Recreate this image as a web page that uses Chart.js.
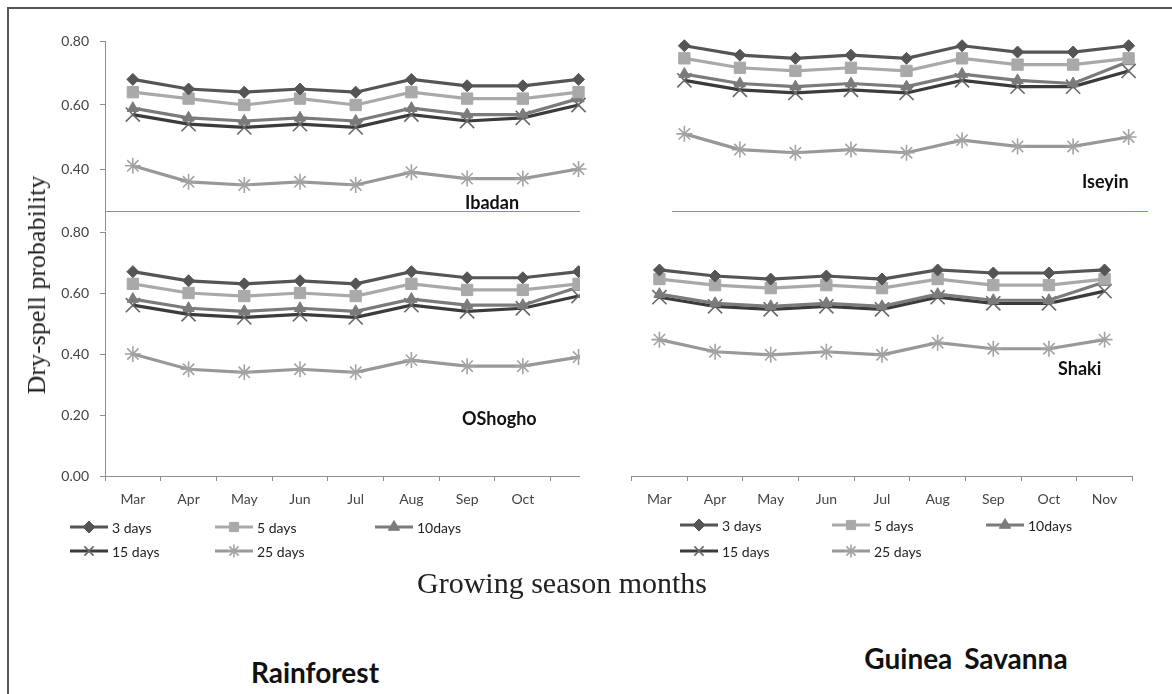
<!DOCTYPE html>
<html>
<head>
<meta charset="utf-8">
<script src="https://cdn.jsdelivr.net/npm/chart.js@4.4.1/dist/chart.umd.min.js"></script>
<style>
  body { margin: 0; background: #fff; width: 1172px; height: 694px; position: relative; overflow: hidden; }
  .frame { position: absolute; left: 7px; top: 7px; width: 1300px; height: 800px; border: 2px solid #555; }
  .clip { position: absolute; overflow: hidden; }
  .clip canvas { position: absolute; }
  .txt { position: absolute; white-space: nowrap; color: #111; }
  .station { font-family: Lato, "Open Sans", sans-serif; font-weight: bold; font-size: 18px; transform: translateY(-50%); }
  .zone { font-family: Lato, "Open Sans", sans-serif; font-weight: bold; font-size: 28px; }
  .serif { font-family: "Liberation Serif", "DejaVu Serif", serif; color: #222; }
  .sep { position: absolute; height: 0; border-top: 1.5px solid #6b98cf; }
</style>
</head>
<body>
<div class="frame"></div>

<div class="clip" style="left:0;top:0;width:597px;height:231px"><canvas id="ibadan"></canvas></div>
<div class="clip" style="left:0;top:205px;width:580px;height:370px"><canvas id="oshogbo"></canvas></div>
<div class="clip" style="left:600px;top:0;width:572px;height:231px"><canvas id="iseyin"></canvas></div>
<div class="clip" style="left:600px;top:214px;width:572px;height:360px"><canvas id="shaki"></canvas></div>

<div class="sep" style="left:106px;top:211px;width:474px"></div>
<div class="sep" style="left:672px;top:211px;width:476px"></div>

<div class="txt station" style="left:465px;top:202px">Ibadan</div>
<div class="txt station" style="left:1082px;top:181px">Iseyin</div>
<div class="txt station" style="left:462px;top:418px">OShogho</div>
<div class="txt station" style="left:1058px;top:368px">Shaki</div>

<div class="txt serif" style="left:37px;top:285px;transform:translate(-50%,-50%) rotate(-90deg);font-size:26px">Dry-spell probability</div>
<div class="txt serif" style="left:562px;top:583px;transform:translate(-50%,-50%);font-size:30px">Growing season months</div>
<div class="txt zone" style="left:315px;top:672px;transform:translate(-50%,-50%)">Rainforest</div>
<div class="txt zone" style="left:966px;top:658px;transform:translate(-50%,-50%);word-spacing:5px">Guinea Savanna</div>

<script>
// months on the x axis
const months = ['Mar', 'Apr', 'May', 'Jun', 'Jul', 'Aug', 'Sep', 'Oct', 'Nov'];
const seriesNames = ['3 days', '5 days', '10days', '15 days', '25 days'];

// Ibadan (rainforest, top)
const ibadan3  = [0.68, 0.65, 0.64, 0.65, 0.64, 0.68, 0.66, 0.66, 0.68];
const ibadan5  = [0.64, 0.62, 0.60, 0.62, 0.60, 0.64, 0.62, 0.62, 0.64];
const ibadan10 = [0.59, 0.56, 0.55, 0.56, 0.55, 0.59, 0.57, 0.57, 0.62];
const ibadan15 = [0.57, 0.54, 0.53, 0.54, 0.53, 0.57, 0.55, 0.56, 0.60];
const ibadan25 = [0.41, 0.36, 0.35, 0.36, 0.35, 0.39, 0.37, 0.37, 0.40];

// Oshogbo (rainforest, bottom)
const oshogbo3  = [0.67, 0.64, 0.63, 0.64, 0.63, 0.67, 0.65, 0.65, 0.67];
const oshogbo5  = [0.63, 0.60, 0.59, 0.60, 0.59, 0.63, 0.61, 0.61, 0.63];
const oshogbo10 = [0.58, 0.55, 0.54, 0.55, 0.54, 0.58, 0.56, 0.56, 0.62];
const oshogbo15 = [0.56, 0.53, 0.52, 0.53, 0.52, 0.56, 0.54, 0.55, 0.59];
const oshogbo25 = [0.40, 0.35, 0.34, 0.35, 0.34, 0.38, 0.36, 0.36, 0.39];

// Iseyin (guinea savanna, top)
const iseyin3  = [0.79, 0.76, 0.75, 0.76, 0.75, 0.79, 0.77, 0.77, 0.79];
const iseyin5  = [0.75, 0.72, 0.71, 0.72, 0.71, 0.75, 0.73, 0.73, 0.75];
const iseyin10 = [0.70, 0.67, 0.66, 0.67, 0.66, 0.70, 0.68, 0.67, 0.74];
const iseyin15 = [0.68, 0.65, 0.64, 0.65, 0.64, 0.68, 0.66, 0.66, 0.71];
const iseyin25 = [0.51, 0.46, 0.45, 0.46, 0.45, 0.49, 0.47, 0.47, 0.50];

// Shaki (guinea savanna, bottom)
const shaki3  = [0.68, 0.66, 0.65, 0.66, 0.65, 0.68, 0.67, 0.67, 0.68];
const shaki5  = [0.65, 0.63, 0.62, 0.63, 0.62, 0.65, 0.63, 0.63, 0.65];
const shaki10 = [0.60, 0.57, 0.56, 0.57, 0.56, 0.60, 0.58, 0.58, 0.64];
const shaki15 = [0.59, 0.56, 0.55, 0.56, 0.55, 0.59, 0.57, 0.57, 0.61];
const shaki25 = [0.45, 0.41, 0.40, 0.41, 0.40, 0.44, 0.42, 0.42, 0.45];

const seriesColors = ['#555555', '#a9a9a9', '#7b7b7b', '#3b3b3b', '#989898'];
const markerColors = ['#555555', '#a9a9a9', '#7b7b7b', '#686868', '#a3a3a3'];
const seriesMarkers = ['rectRot', 'rect', 'triangle', 'crossRot', 'star'];
const markerSizes = [6, 8, 6.5, 10, 8];

const axisGrey = '#8c8c8c';
const tickFont = { family: 'Lato, "Open Sans", sans-serif', size: 14 };

function buildDatasets(lists) {
    return lists.map((vals, i) => ({
        label: seriesNames[i],
        data: vals,
        borderColor: seriesColors[i],
        backgroundColor: seriesColors[i],
        borderWidth: 3.2,
        pointStyle: seriesMarkers[i],
        pointRadius: markerSizes[i],
        pointBorderWidth: (i >= 3) ? 1.6 : 1,
        pointBorderColor: markerColors[i],
        pointBackgroundColor: markerColors[i],
        tension: 0,
        clip: false
    }));
}

// draws the Excel style legend (line with marker in the middle)
const lineLegend = {
    id: 'lineLegend',
    afterDraw(chart, args, opts) {
        if (!opts.spots) return;
        const ctx = chart.ctx;
        ctx.save();
        chart.data.datasets.forEach((ds, i) => {
            const s = opts.spots[i];
            if (!s) return;
            const len = 38;
            ctx.strokeStyle = ds.borderColor;
            ctx.lineWidth = 3;
            ctx.beginPath();
            ctx.moveTo(s.x, s.y);
            ctx.lineTo(s.x + len, s.y);
            ctx.stroke();
            ctx.fillStyle = ds.pointBackgroundColor;
            ctx.strokeStyle = ds.pointBorderColor;
            ctx.lineWidth = ds.pointBorderWidth;
            Chart.helpers.drawPoint(ctx, {
                pointStyle: ds.pointStyle,
                radius: Math.min(ds.pointRadius, 6.5),
                rotation: 0,
                borderWidth: ds.pointBorderWidth
            }, s.x + len / 2, s.y);
            ctx.fillStyle = '#222';
            ctx.font = '14px Lato, "Open Sans", sans-serif';
            ctx.textBaseline = 'middle';
            ctx.fillText(ds.label, s.x + len + 4, s.y + 1);
        });
        ctx.restore();
    }
};

function makeChart(id, lists, g) {
    const cv = document.getElementById(id);
    cv.width = g.w;
    cv.height = g.h;
    cv.style.left = g.left + 'px';
    cv.style.top = g.top + 'px';
    return new Chart(cv, {
        type: 'line',
        data: { labels: months, datasets: buildDatasets(lists) },
        plugins: [lineLegend],
        options: {
            responsive: false,
            animation: false,
            devicePixelRatio: 1,
            layout: { padding: g.pad },
            plugins: {
                legend: { display: false },
                tooltip: { enabled: false },
                lineLegend: { spots: g.legend }
            },
            scales: {
                x: {
                    display: g.showX,
                    offset: true,
                    grid: { offset: true, drawOnChartArea: false, tickLength: 5, color: axisGrey },
                    border: { display: true, color: axisGrey },
                    ticks: {
                        color: '#444', font: tickFont, padding: 10, maxRotation: 0, autoSkip: false,
                        // the last month label is hidden under the neighbour panel
                        callback: (v, idx) => (g.hideLast && idx === months.length - 1) ? '' : months[idx]
                    },
                    afterFit: s => { if (g.showX) s.height = 40; }
                },
                y: {
                    display: g.showY,
                    min: g.yMin,
                    max: 0.8,
                    grid: { drawOnChartArea: false, tickLength: 5, color: axisGrey },
                    border: { display: true, color: axisGrey },
                    ticks: {
                        stepSize: 0.2,
                        color: '#444',
                        font: tickFont,
                        padding: 11,
                        callback: v => (g.hideMin && Math.abs(v - g.yMin) < 1e-6) ? '' : v.toFixed(2)
                    },
                    afterFit: s => { if (g.showY) s.width = 58; }
                }
            }
        }
    });
}

// left column: y axis at x = 105, top chart 0.80 at y = 41, bottom chart 0.80 at y = 232 and 0.00 at y = 476
// (the tick padding adds ~20px above the top label, so the canvases start 21px above the plot)
makeChart('ibadan', [ibadan3, ibadan5, ibadan10, ibadan15, ibadan25], {
    left: 47, top: 20, w: 571, h: 234,
    pad: { top: 21, right: 0, bottom: 21, left: 0 },
    showX: false, showY: true, yMin: 0.2, hideMin: true
});
makeChart('oshogbo', [oshogbo3, oshogbo5, oshogbo10, oshogbo15, oshogbo25], {
    left: 47, top: 6, w: 571, h: 353,
    pad: { top: 21, right: 0, bottom: 48, left: 0 },
    showX: true, showY: true, yMin: 0, hideMin: false, hideLast: true,
    legend: [{ x: 23, y: 316 }, { x: 168, y: 316 }, { x: 328, y: 316 }, { x: 23, y: 340 }, { x: 168, y: 340 }]
});
makeChart('iseyin', [iseyin3, iseyin5, iseyin10, iseyin15, iseyin25], {
    left: 45, top: 31, w: 523, h: 212,
    pad: { top: 10, right: 10, bottom: 10, left: 10 },
    showX: false, showY: false, yMin: 0.2
});
makeChart('shaki', [shaki3, shaki5, shaki10, shaki15, shaki25], {
    left: 20, top: 8, w: 524, h: 342,
    pad: { top: 10, right: 5, bottom: 48, left: 10 },
    showX: true, showY: false, yMin: 0,
    legend: [{ x: 60, y: 303 }, { x: 212, y: 303 }, { x: 366, y: 303 }, { x: 60, y: 329 }, { x: 212, y: 329 }]
});
</script>
</body>
</html>
